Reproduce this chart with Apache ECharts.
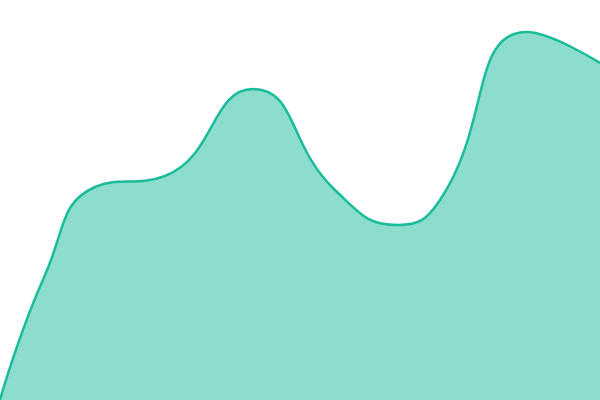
<!DOCTYPE html>
<html>
<head>
<meta charset="utf-8">
<script src="https://cdn.jsdelivr.net/npm/echarts@6/dist/echarts.min.js"></script>
<style>
  html, body { margin: 0; padding: 0; background: #fff; }
  #main { width: 600px; height: 400px; }
</style>
</head>
<body>
<div id="main"></div>
<script>
// points (x along 0..600, value along 0..400)
var xs = [0, 45, 95, 165, 253, 335, 398, 440, 527, 600];
var ys = [0, 125, 213, 224, 311, 210, 175, 200, 368, 337];

var myChart = echarts.init(document.getElementById('main'));
var option = {
  animation: false,
  grid: { left: 0, right: 0, top: 0, bottom: 0 },
  xAxis: {
    type: 'value',
    min: 0,
    max: 600,
    show: false
  },
  yAxis: {
    type: 'value',
    min: 0,
    max: 400,
    show: false
  },
  series: [{
    type: 'line',
    data: xs.map(function (x, i) { return [x, ys[i]]; }),
    smooth: true,
    symbol: 'none',
    lineStyle: { color: '#1abc9c', width: 2.5 },
    areaStyle: { color: '#1abc9c', opacity: 0.5 }
  }]
};
myChart.setOption(option);
</script>
</body>
</html>
